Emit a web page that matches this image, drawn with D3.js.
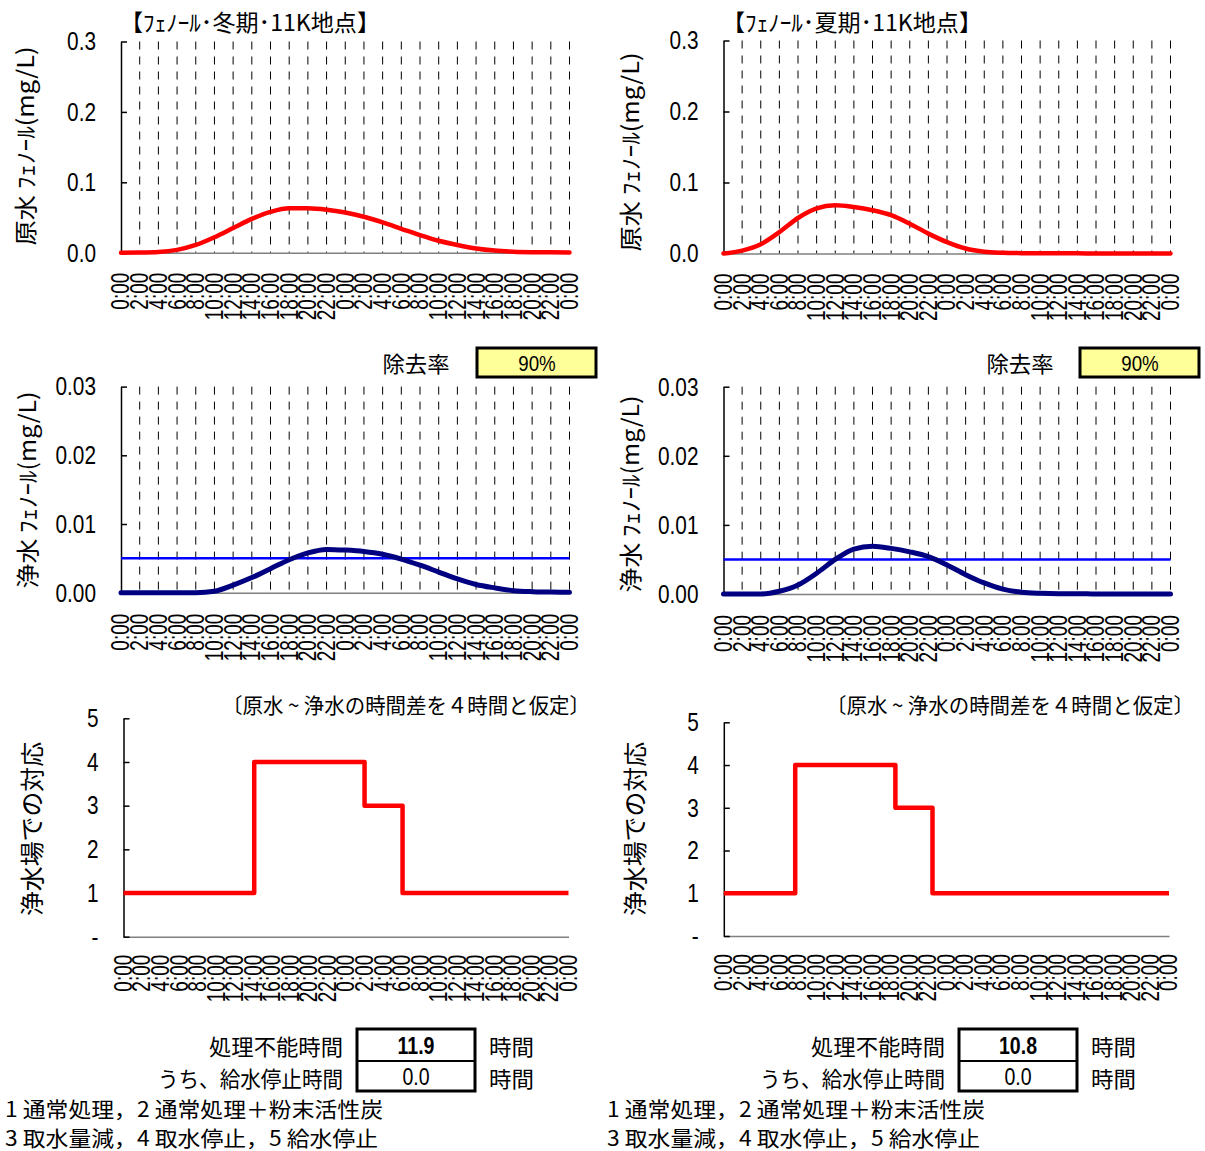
<!DOCTYPE html>
<html><head><meta charset="utf-8">
<script src="https://cdn.jsdelivr.net/npm/d3@7"></script>
<style>body{margin:0;background:#fff}</style>
</head><body>
<svg id="c" width="1205" height="1151" xmlns="http://www.w3.org/2000/svg"></svg>
<script>
// ---------- data ----------
const hours = [0,2,4,6,8,10,12,14,16,18,20,22,24,26,28,30,32,34,36,38,40,42,44,46,48];
const tickLabels = ["0:00","2:00","4:00","6:00","8:00","10:00","12:00","14:00","16:00","18:00","20:00","22:00",
                    "0:00","2:00","4:00","6:00","8:00","10:00","12:00","14:00","16:00","18:00","20:00","22:00","0:00"];
const rawWinter = [0,0.0002,0.001,0.004,0.011,0.022,0.035,0.048,0.058,0.0632,0.063,0.061,0.057,0.051,0.043,0.034,0.025,0.017,0.011,0.006,0.003,0.0015,0.0008,0.0005,0.0004];
const rawSummer = [0,0.004,0.013,0.030,0.050,0.0635,0.068,0.0655,0.061,0.054,0.042,0.028,0.016,0.007,0.0025,0.001,0.0005,0.0003,0.0002,0.0002,0.0001,0.0001,0.0001,0.0001,0.0001];
const treatedWinter = [0,0,0,0,0,0.0002,0.0011,0.0022,0.0035,0.0048,0.0058,0.0063,0.0062,0.006,0.0056,0.0049,0.004,0.003,0.002,0.0012,0.0007,0.0003,0.00015,0.0001,0.00005];
const treatedSummer = [0,0,0,0.0004,0.0013,0.003,0.005,0.0065,0.0069,0.0066,0.0061,0.0054,0.0042,0.0028,0.0016,0.0007,0.00025,0.0001,0.00005,0.00005,0,0,0,0,0];
const standardValue = 0.005;
const removalRate = ["90%","90%"];
const stepWinterHours = [0,14.1,26,30.1,48];
const stepWinterLevels = [1,4,3,1,1];
const stepSummerHours = [0,7.7,18.5,22.5,48];
const stepSummerLevels = [1,4,3,1,1];
const unableHours = ["11.9","10.8"];
const stopHours = ["0.0","0.0"];
const titles = ["【ﾌｪﾉｰﾙ･冬期･11K地点】","【ﾌｪﾉｰﾙ･夏期･11K地点】"];
const rawTicks = [0,0.1,0.2,0.3];
const treatedTicks = [0,0.01,0.02,0.03];
const stepTicks = [0,1,2,3,4,5];

// ---------- helpers ----------
const CJK = "'Noto Sans CJK JP', sans-serif";
const NUM = "'Liberation Sans', Arial, sans-serif";
const svg = d3.select("#c");
svg.append("rect").attr("width",1205).attr("height",1151).attr("fill","#fff");

function txt(x, y, s, o = {}) {
  const t = svg.append("text")
    .attr("transform", `translate(${x},${y}) rotate(${o.rot||0}) scale(${o.sx||1},1)`)
    .attr("text-anchor", o.anchor || "start")
    .attr("dominant-baseline", "central")
    .style("font-family", o.font || CJK)
    .style("font-size", (o.size || 22) + "px")
    .style("font-weight", o.bold ? "bold" : "normal")
    .style("fill", "#000")
    .text(s);
  if (o.len) t.attr("textLength", o.len).attr("lengthAdjust", "spacingAndGlyphs");
  return t;
}

function panel(p) {
  const x = d3.scaleLinear().domain([0,48]).range([p.x0, p.x1]);
  const y = d3.scaleLinear().domain(p.yDomain).range([p.yb, p.yt]);
  const g = svg.append("g");
  if (p.grid) {
    g.selectAll("line.grid").data(hours.slice(1)).join("line")
      .attr("x1", d => x(d)).attr("x2", d => x(d))
      .attr("y1", p.yt).attr("y2", p.yb)
      .attr("stroke", "#000").attr("stroke-width", 1)
      .attr("stroke-dasharray", "8,7");
  }
  const xa = g.append("g").attr("transform", `translate(0,${p.yb})`)
    .call(d3.axisBottom(x).tickValues(hours).tickSize(0).tickFormat(""));
  xa.select(".domain").attr("stroke", "#808080").attr("stroke-width", 1.5);
  const ya = g.append("g").attr("transform", `translate(${p.x0},0)`)
    .call(d3.axisLeft(y).tickValues(p.ticks).tickSizeInner(-6).tickSizeOuter(0).tickFormat(""));
  ya.select(".domain").attr("stroke", "#000").attr("stroke-width", 1.5);
  ya.selectAll(".tick line").attr("stroke", "#000").attr("stroke-width", 1.5);
  p.ticks.forEach(v => txt(p.x0 - 25, y(v), p.fmt(v), {anchor:"end", font:NUM, size:26, sx:0.8}));
  hours.forEach((h, i) => txt(x(h), p.yb + p.lblOff, tickLabels[i], {rot:-90, anchor:"end", font:NUM, size:25, sx:0.76}));
  if (p.standard !== undefined) {
    g.append("line").attr("x1", p.x0).attr("x2", p.x1)
      .attr("y1", y(p.standard)).attr("y2", y(p.standard))
      .attr("stroke", "#0000FF").attr("stroke-width", 2.5);
  }
  if (p.values) {
    const line = d3.line().x((d,i) => x(hours[i])).y(d => y(d)).curve(d3.curveMonotoneX);
    g.append("path").datum(p.values).attr("d", line)
      .attr("fill", "none").attr("stroke", p.color).attr("stroke-width", p.width)
      .attr("stroke-linejoin", "round").attr("stroke-linecap", "round");
  }
  if (p.stepH) {
    const line = d3.line().x((d,i) => x(p.stepH[i])).y(d => y(d)).curve(d3.curveStepAfter);
    g.append("path").datum(p.stepL).attr("d", line)
      .attr("fill", "none").attr("stroke", "#FF0000").attr("stroke-width", 4.5)
      .attr("stroke-linejoin", "round");
  }
}

const fmt1 = d3.format(".1f"), fmt2 = d3.format(".2f");
const fmtStep = v => v === 0 ? "-" : String(v);

panel({x0:121, x1:569.5, yt:41.5, yb:252.7, yDomain:[0,0.3], ticks:rawTicks, fmt:fmt1, grid:true, lblOff:20, values:rawWinter, color:"#FF0000", width:4.5});
panel({x0:723.5, x1:1170.5, yt:40.5, yb:253.5, yDomain:[0,0.3], ticks:rawTicks, fmt:fmt1, grid:true, lblOff:20, values:rawSummer, color:"#FF0000", width:4.5});
panel({x0:121, x1:569.5, yt:386.6, yb:592.7, yDomain:[0,0.03], ticks:treatedTicks, fmt:fmt2, grid:true, lblOff:21, values:treatedWinter, color:"#000080", width:5, standard:standardValue});
panel({x0:723.5, x1:1170.5, yt:386.7, yb:594, yDomain:[0,0.03], ticks:treatedTicks, fmt:fmt2, grid:true, lblOff:21, values:treatedSummer, color:"#000080", width:5, standard:standardValue});
panel({x0:123.5, x1:568.5, yt:718.3, yb:936.7, yDomain:[0,5], ticks:stepTicks, fmt:fmtStep, grid:false, lblOff:18, stepH:stepWinterHours, stepL:stepWinterLevels});
panel({x0:723.8, x1:1169, yt:722.3, yb:936, yDomain:[0,5], ticks:stepTicks, fmt:fmtStep, grid:false, lblOff:18, stepH:stepSummerHours, stepL:stepSummerLevels});

[0,1].forEach(c => {
  const dx = c === 0 ? 0 : 602;
  txt(120 + dx, 21, titles[c], {size:23, len:260});
  txt(24 + dx + (c ? 3 : 0), 146 + (c ? 6 : 0), "原水 ﾌｪﾉｰﾙ(mg/L)", {rot:-90, anchor:"middle", size:23, len:199});
  txt(26 + dx + (c ? 1 : 0), 490 + (c ? 4 : 0), "浄水 ﾌｪﾉｰﾙ(mg/L)", {rot:-90, anchor:"middle", size:23, len:197});
  txt(30 + dx + (c ? 1.5 : 0), 829, "浄水場での対応", {rot:-90, anchor:"middle", size:24, len:174});
  txt(416 + dx + (c ? 2 : 0), 362, "除去率", {anchor:"middle", size:22, len:67});
  const bx = c === 0 ? 477 : 1080;
  svg.append("rect").attr("x", bx).attr("y", 348).attr("width", 119).attr("height", 29)
    .attr("fill", "#FFFF99").attr("stroke", "#000").attr("stroke-width", 3);
  txt(bx + 60, 363, removalRate[c], {anchor:"middle", font:NUM, size:22, sx:0.85});
  txt(222 + dx + (c ? 2 : 0), 704, "〔原水 ~ 浄水の時間差を４時間と仮定〕", {size:21, len:368});
  const tx = c === 0 ? 357 : 959;
  svg.append("rect").attr("x", tx).attr("y", 1029).attr("width", 118).attr("height", 62)
    .attr("fill", "#fff").attr("stroke", "#000").attr("stroke-width", 3);
  svg.append("line").attr("x1", tx).attr("x2", tx + 118).attr("y1", 1061).attr("y2", 1061)
    .attr("stroke", "#000").attr("stroke-width", 2);
  txt(tx + 59, 1046, unableHours[c], {anchor:"middle", font:NUM, size:23, sx:0.85, bold:true});
  txt(tx + 59, 1077, stopHours[c], {anchor:"middle", font:NUM, size:23, sx:0.85});
  txt(tx - 14, 1045, "処理不能時間", {anchor:"end", size:22, len:134});
  txt(tx - 14, 1077, "うち、給水停止時間", {anchor:"end", size:22, len:185});
  txt(tx + 132, 1045, "時間", {size:22, len:45});
  txt(tx + 132, 1077, "時間", {size:22, len:45});
  const lx = c === 0 ? 5 : 607;
  txt(lx, 1108, "1 通常処理，2 通常処理＋粉末活性炭", {size:21, len:378});
  txt(lx, 1137, "3 取水量減，4 取水停止，5 給水停止", {size:21, len:373});
});
</script>
</body></html>
